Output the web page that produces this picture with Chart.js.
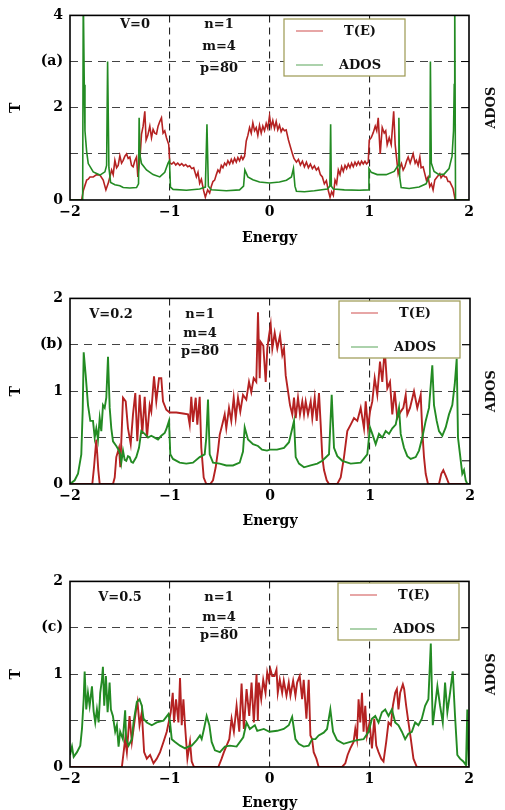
<!DOCTYPE html>
<html lang="en">
<head>
    <meta charset="UTF-8">
    <title>T(E) and ADOS</title>
    <script src="https://cdn.jsdelivr.net/npm/chart.js"></script>
    <style>
        body {
            margin: 0;
            background: #fff;
            width: 505px;
            height: 810px;
            overflow: hidden;
            position: relative;
        }

        .panel {
            position: absolute;
            left: 0;
            width: 505px;
        }
    </style>
</head>
<body>

    <div class="panel" style="top:0px;height:270px"><canvas id="chartA" width="505" height="270"></canvas></div>
    <div class="panel" style="top:283px;height:270px"><canvas id="chartB" width="505" height="270"></canvas></div>
    <div class="panel" style="top:566px;height:244px"><canvas id="chartC" width="505" height="244"></canvas></div>

    <script>
        // energy axis
        var xTicks = [-2, -1, 0, 1, 2];
        var xTickLabels = ['\u22122', '\u22121', '0', '1', '2'];

        // y tick labels per panel (panel letter sits on a tick)
        var yTickLabelsA = ['0', '', '2', '(a)', '4'];
        var yTickLabelsB = ['0', '', '1', '(b)', '2'];
        var yTickLabelsC = ['0', '', '1', '(c)', '2'];

        var seriesNames = ['T(E)', 'ADOS'];
        var paramsA = ['V=0', 'n=1', 'm=4', 'p=80'];
        var paramsB = ['V=0.2', 'n=1', 'm=4', 'p=80'];
        var paramsC = ['V=0.5', 'n=1', 'm=4', 'p=80'];

        // (a) V=0 : [energy, value]
        var adosA = [[-2,0],[-1.883,0],[-1.873,0],[-1.867,4.5],[-1.857,2.5],[-1.85,1.5],[-1.833,1.05],[-1.817,0.79],[-1.767,0.61],[-1.70,0.54],[-1.65,0.61],[-1.633,0.75],[-1.623,3.0],[-1.61,0.7],[-1.593,0.38],[-1.55,0.33],[-1.5,0.31],[-1.467,0.27],[-1.40,0.26],[-1.333,0.27],[-1.313,0.35],[-1.307,1.78],[-1.297,0.95],[-1.283,0.79],[-1.233,0.65],[-1.167,0.55],[-1.10,0.5],[-1.05,0.6],[-1.017,0.8],[-1.003,0.85],[-0.993,0.28],[-0.967,0.23],[-0.833,0.21],[-0.70,0.24],[-0.643,0.28],[-0.627,1.64],[-0.613,0.3],[-0.583,0.22],[-0.433,0.2],[-0.30,0.22],[-0.26,0.3],[-0.247,0.65],[-0.217,0.5],[-0.167,0.44],[-0.1,0.39],[0,0.37],[0.1,0.39],[0.17,0.43],[0.22,0.5],[0.24,0.68],[0.255,0.3],[0.27,0.19],[0.35,0.18],[0.45,0.2],[0.58,0.24],[0.605,0.3],[0.613,1.64],[0.62,0.3],[0.64,0.24],[0.75,0.22],[0.9,0.21],[0.99,0.22],[0.997,0.68],[1.02,0.6],[1.08,0.55],[1.17,0.55],[1.25,0.62],[1.29,0.75],[1.297,1.78],[1.305,0.5],[1.32,0.27],[1.4,0.25],[1.5,0.28],[1.57,0.35],[1.6,0.5],[1.608,0.7],[1.613,3.0],[1.622,0.8],[1.65,0.62],[1.7,0.55],[1.75,0.56],[1.8,0.68],[1.83,0.95],[1.845,1.5],[1.852,2.5],[1.857,4.5],[1.865,0],[2,0]];
        var transA = [[-2,0],[-1.883,0],[-1.867,0.2],[-1.833,0.43],[-1.817,0.45],[-1.8,0.5],[-1.767,0.5],[-1.733,0.55],[-1.7,0.54],[-1.667,0.43],[-1.64,0.22],[-1.617,0.36],[-1.583,0.65],[-1.567,0.55],[-1.55,0.86],[-1.533,0.7],[-1.517,0.75],[-1.5,0.96],[-1.483,0.8],[-1.467,0.86],[-1.45,0.95],[-1.433,1.0],[-1.417,0.9],[-1.4,0.93],[-1.383,0.75],[-1.367,0.72],[-1.35,0.85],[-1.333,0.93],[-1.32,0.5],[-1.297,0.95],[-1.283,1.43],[-1.267,1.6],[-1.25,1.92],[-1.237,1.3],[-1.22,1.4],[-1.2,1.6],[-1.183,1.35],[-1.167,1.53],[-1.15,1.45],[-1.133,1.43],[-1.117,1.6],[-1.1,1.7],[-1.083,1.78],[-1.067,1.45],[-1.05,1.5],[-1.033,1.35],[-1.01,1.2],[-1.0,0.8],[-0.98,0.78],[-0.96,0.82],[-0.94,0.76],[-0.92,0.8],[-0.9,0.75],[-0.88,0.79],[-0.86,0.74],[-0.84,0.77],[-0.82,0.72],[-0.8,0.74],[-0.78,0.68],[-0.76,0.7],[-0.733,0.5],[-0.717,0.6],[-0.7,0.36],[-0.683,0.45],[-0.66,0.2],[-0.643,0.06],[-0.62,0.22],[-0.6,0.15],[-0.583,0.3],[-0.567,0.4],[-0.55,0.43],[-0.533,0.55],[-0.517,0.65],[-0.5,0.6],[-0.483,0.75],[-0.467,0.7],[-0.45,0.8],[-0.433,0.75],[-0.417,0.85],[-0.4,0.78],[-0.383,0.88],[-0.367,0.8],[-0.35,0.9],[-0.333,0.82],[-0.317,0.92],[-0.3,0.85],[-0.283,0.95],[-0.267,0.88],[-0.25,0.95],[-0.233,1.28],[-0.217,1.4],[-0.2,1.57],[-0.183,1.45],[-0.167,1.67],[-0.15,1.5],[-0.133,1.57],[-0.117,1.4],[-0.1,1.62],[-0.083,1.45],[-0.067,1.6],[-0.05,1.5],[-0.033,1.66],[-0.017,1.55],[0,1.82],[0.017,1.58],[0.033,1.72],[0.05,1.55],[0.067,1.7],[0.083,1.52],[0.1,1.62],[0.117,1.48],[0.133,1.55],[0.15,1.5],[0.167,1.52],[0.19,1.3],[0.21,1.15],[0.23,1.0],[0.245,0.9],[0.27,0.82],[0.29,0.88],[0.31,0.76],[0.33,0.84],[0.35,0.72],[0.37,0.82],[0.39,0.7],[0.41,0.78],[0.43,0.68],[0.45,0.74],[0.47,0.65],[0.49,0.7],[0.51,0.55],[0.53,0.5],[0.55,0.35],[0.57,0.42],[0.59,0.2],[0.607,0.06],[0.623,0.18],[0.64,0.1],[0.657,0.43],[0.673,0.35],[0.69,0.65],[0.707,0.55],[0.723,0.72],[0.74,0.62],[0.757,0.75],[0.773,0.68],[0.79,0.78],[0.807,0.7],[0.823,0.8],[0.84,0.72],[0.857,0.82],[0.873,0.75],[0.89,0.83],[0.907,0.76],[0.923,0.84],[0.94,0.78],[0.957,0.84],[0.973,0.78],[0.99,0.82],[1.0,1.3],[1.02,1.35],[1.04,1.46],[1.06,1.6],[1.075,1.5],[1.09,1.78],[1.11,1.0],[1.13,1.57],[1.15,1.45],[1.165,1.5],[1.18,1.2],[1.2,1.35],[1.22,1.2],[1.245,1.92],[1.26,1.2],[1.273,0.93],[1.29,0.57],[1.31,0.72],[1.323,0.79],[1.34,0.65],[1.357,0.72],[1.375,0.85],[1.39,0.93],[1.41,0.8],[1.44,1.0],[1.46,0.8],[1.473,0.86],[1.49,0.75],[1.507,0.93],[1.52,0.7],[1.54,0.72],[1.573,0.43],[1.59,0.5],[1.607,0.29],[1.623,0.35],[1.64,0.22],[1.657,0.43],[1.68,0.5],[1.707,0.57],[1.72,0.48],[1.74,0.54],[1.76,0.5],[1.773,0.5],[1.79,0.4],[1.807,0.4],[1.84,0.25],[1.86,0.02],[1.87,0],[2,0]];

        // (b) V=0.2
        var adosB = [[-2,0],[-1.953,0.04],[-1.92,0.11],[-1.887,0.32],[-1.873,0.8],[-1.863,1.42],[-1.843,1.17],[-1.82,0.85],[-1.797,0.68],[-1.77,0.68],[-1.753,0.5],[-1.737,0.6],[-1.72,0.48],[-1.703,0.71],[-1.687,0.57],[-1.67,0.85],[-1.653,0.82],[-1.637,0.93],[-1.62,1.37],[-1.603,0.82],[-1.587,0.6],[-1.57,0.46],[-1.537,0.41],[-1.51,0.36],[-1.497,0.32],[-1.487,0.23],[-1.47,0.36],[-1.453,0.26],[-1.437,0.25],[-1.42,0.3],[-1.403,0.29],[-1.387,0.24],[-1.37,0.23],[-1.337,0.29],[-1.31,0.39],[-1.287,0.57],[-1.253,0.54],[-1.22,0.5],[-1.187,0.52],[-1.153,0.5],[-1.12,0.48],[-1.087,0.52],[-1.053,0.55],[-1.037,0.59],[-1.01,0.68],[-0.997,0.32],[-0.97,0.27],[-0.903,0.23],[-0.837,0.22],[-0.77,0.23],[-0.703,0.29],[-0.653,0.32],[-0.637,0.5],[-0.62,0.91],[-0.603,0.32],[-0.57,0.23],[-0.503,0.22],[-0.437,0.2],[-0.37,0.2],[-0.303,0.23],[-0.27,0.35],[-0.253,0.61],[-0.22,0.48],[-0.17,0.43],[-0.12,0.41],[-0.08,0.37],[-0.03,0.36],[0,0.37],[0.07,0.37],[0.14,0.39],[0.19,0.45],[0.223,0.6],[0.24,0.68],[0.257,0.29],[0.29,0.22],[0.34,0.18],[0.407,0.2],[0.473,0.22],[0.523,0.25],[0.59,0.32],[0.617,0.96],[0.64,0.39],[0.673,0.3],[0.723,0.25],[0.807,0.22],[0.907,0.23],[0.973,0.32],[1.0,0.61],[1.023,0.54],[1.057,0.43],[1.09,0.54],[1.123,0.5],[1.157,0.57],[1.19,0.54],[1.223,0.6],[1.257,0.64],[1.29,0.82],[1.307,0.54],[1.34,0.39],[1.373,0.3],[1.407,0.27],[1.457,0.29],[1.49,0.36],[1.523,0.5],[1.557,0.68],[1.59,0.82],[1.623,1.28],[1.64,0.85],[1.667,0.68],[1.69,0.57],[1.723,0.52],[1.757,0.61],[1.79,0.75],[1.823,0.85],[1.847,1.07],[1.867,1.35],[1.88,0.5],[1.9,0.32],[1.923,0.11],[1.94,0.15],[1.957,0.04],[1.973,0],[2,0]];
        var transB = [[-2,0],[-1.777,0],[-1.76,0.18],[-1.737,0.48],[-1.717,0.15],[-1.703,0],[-1.57,0],[-1.553,0.07],[-1.537,0.29],[-1.51,0.39],[-1.497,0.18],[-1.47,0.93],[-1.443,0.89],[-1.42,0.6],[-1.393,0.43],[-1.37,0.75],[-1.347,0.98],[-1.327,0.46],[-1.303,0.96],[-1.277,0.54],[-1.253,0.94],[-1.23,0.5],[-1.203,0.85],[-1.187,0.78],[-1.16,1.16],[-1.137,0.89],[-1.11,1.14],[-1.087,1.14],[-1.07,0.89],[-1.037,0.8],[-1.003,0.77],[-0.937,0.77],[-0.87,0.76],[-0.82,0.75],[-0.803,0.64],[-0.787,0.94],[-0.77,0.67],[-0.743,0.93],[-0.727,0.64],[-0.703,0.94],[-0.687,0.39],[-0.663,0.07],[-0.637,0],[-0.597,0],[-0.57,0.04],[-0.543,0.18],[-0.52,0.36],[-0.503,0.53],[-0.477,0.64],[-0.453,0.75],[-0.437,0.6],[-0.41,0.82],[-0.387,0.68],[-0.363,0.93],[-0.343,0.71],[-0.32,0.93],[-0.297,0.78],[-0.27,0.96],[-0.237,0.91],[-0.21,1.1],[-0.187,0.99],[-0.163,1.14],[-0.137,1.1],[-0.12,1.85],[-0.103,1.14],[-0.093,1.53],[-0.067,1.49],[-0.043,1.1],[-0.027,1.46],[-0.01,1.6],[0.007,1.72],[0.023,1.46],[0.047,1.63],[0.073,1.46],[0.1,1.6],[0.123,1.39],[0.14,1.46],[0.157,1.17],[0.18,1.0],[0.2,0.85],[0.223,0.75],[0.24,0.93],[0.257,0.71],[0.28,0.93],[0.3,0.75],[0.323,0.89],[0.34,0.75],[0.357,0.89],[0.38,0.75],[0.407,0.89],[0.423,0.71],[0.447,0.93],[0.467,0.68],[0.49,0.98],[0.507,0.64],[0.523,0.29],[0.54,0.15],[0.567,0.04],[0.59,0],[0.673,0],[0.707,0.07],[0.74,0.29],[0.773,0.57],[0.807,0.64],[0.84,0.71],[0.873,0.68],[0.907,0.82],[0.94,0.6],[0.957,0.89],[0.98,0.6],[1.0,0.78],[1.023,0.89],[1.047,1.14],[1.073,0.96],[1.1,1.32],[1.123,1.1],[1.147,1.46],[1.173,1.03],[1.2,1.1],[1.223,0.75],[1.247,1.0],[1.273,0.71],[1.307,0.78],[1.333,0.82],[1.357,0.96],[1.373,0.75],[1.4,0.82],[1.44,1.0],[1.473,0.82],[1.507,0.96],[1.523,0.57],[1.54,0.29],[1.557,0.11],[1.58,0],[1.69,0],[1.713,0.11],[1.733,0.15],[1.757,0.09],[1.79,0],[2,0]];

        // (c) V=0.5
        var adosC = [[-2,0.13],[-1.98,0.22],[-1.963,0.11],[-1.93,0.16],[-1.897,0.23],[-1.88,0.41],[-1.863,0.73],[-1.853,1.03],[-1.837,0.62],[-1.82,0.8],[-1.803,0.66],[-1.78,0.87],[-1.763,0.6],[-1.747,0.48],[-1.73,0.62],[-1.713,0.48],[-1.697,0.8],[-1.68,0.94],[-1.67,1.08],[-1.657,0.66],[-1.64,0.98],[-1.623,0.59],[-1.603,0.91],[-1.59,0.62],[-1.57,0.55],[-1.547,0.38],[-1.53,0.45],[-1.513,0.22],[-1.497,0.38],[-1.47,0.3],[-1.447,0.61],[-1.437,0.3],[-1.413,0.23],[-1.38,0.3],[-1.363,0.48],[-1.33,0.7],[-1.303,0.73],[-1.28,0.66],[-1.263,0.52],[-1.23,0.48],[-1.18,0.45],[-1.13,0.48],[-1.063,0.5],[-1.013,0.57],[-0.997,0.48],[-0.98,0.3],[-0.947,0.27],[-0.897,0.23],[-0.847,0.2],[-0.813,0.22],[-0.78,0.23],[-0.73,0.29],[-0.697,0.34],[-0.68,0.3],[-0.657,0.41],[-0.63,0.55],[-0.603,0.45],[-0.58,0.27],[-0.547,0.18],[-0.497,0.16],[-0.447,0.22],[-0.397,0.23],[-0.33,0.22],[-0.263,0.32],[-0.23,0.48],[-0.197,0.41],[-0.147,0.45],[-0.123,0.39],[-0.057,0.41],[0,0.38],[0.077,0.39],[0.143,0.41],[0.193,0.45],[0.227,0.54],[0.26,0.3],[0.293,0.25],[0.343,0.22],[0.393,0.23],[0.427,0.3],[0.46,0.3],[0.493,0.34],[0.543,0.37],[0.577,0.41],[0.61,0.62],[0.637,0.38],[0.677,0.29],[0.743,0.25],[0.81,0.27],[0.877,0.29],[0.943,0.3],[0.993,0.38],[1.027,0.52],[1.06,0.55],[1.093,0.48],[1.127,0.59],[1.16,0.62],[1.193,0.55],[1.227,0.62],[1.26,0.48],[1.293,0.45],[1.327,0.38],[1.36,0.3],[1.393,0.36],[1.427,0.38],[1.46,0.48],[1.493,0.45],[1.527,0.52],[1.56,0.66],[1.593,0.73],[1.617,1.33],[1.637,0.45],[1.66,0.66],[1.683,0.87],[1.71,0.66],[1.737,0.48],[1.76,0.91],[1.783,0.59],[1.81,0.8],[1.837,1.03],[1.86,0.55],[1.883,0.13],[1.91,0.09],[1.943,0.06],[1.97,0.02],[1.983,0.62],[1.997,0.02]];
        var transC = [[-2,0],[-1.48,0],[-1.447,0.3],[-1.43,0.16],[-1.403,0.55],[-1.38,0.27],[-1.363,0.41],[-1.337,0.62],[-1.323,0.7],[-1.303,0.45],[-1.28,0.59],[-1.257,0.16],[-1.23,0.09],[-1.197,0.13],[-1.163,0.04],[-1.13,0.09],[-1.097,0.16],[-1.063,0.27],[-1.03,0.38],[-1.003,0.52],[-0.99,0.59],[-0.97,0.8],[-0.957,0.48],[-0.937,0.73],[-0.913,0.48],[-0.897,0.96],[-0.88,0.45],[-0.863,0.73],[-0.847,0.45],[-0.823,0.09],[-0.797,0.27],[-0.78,0.06],[-0.757,0],[-0.513,0],[-0.48,0.09],[-0.457,0.16],[-0.43,0.23],[-0.403,0.3],[-0.38,0.52],[-0.357,0.38],[-0.33,0.66],[-0.303,0.38],[-0.28,0.9],[-0.257,0.41],[-0.23,0.84],[-0.203,0.55],[-0.18,0.91],[-0.157,0.48],[-0.13,1.0],[-0.117,0.5],[-0.107,0.91],[-0.083,0.73],[-0.063,0.94],[-0.04,0.8],[-0.023,1.02],[-0.007,0.94],[0.01,1.05],[0.027,0.98],[0.05,0.98],[0.07,1.05],[0.083,0.8],[0.103,0.94],[0.127,0.8],[0.143,0.93],[0.17,0.77],[0.193,0.91],[0.21,0.77],[0.237,0.93],[0.26,0.77],[0.277,0.91],[0.303,0.98],[0.327,0.73],[0.343,0.94],[0.37,0.52],[0.393,0.94],[0.41,0.34],[0.427,0.3],[0.443,0.16],[0.47,0.09],[0.493,0],[0.727,0],[0.76,0.04],[0.783,0.13],[0.81,0.2],[0.843,0.27],[0.86,0.41],[0.877,0.3],[0.893,0.73],[0.91,0.48],[0.927,0.8],[0.943,0.38],[0.96,0.66],[0.977,0.34],[1.003,0.48],[1.027,0.2],[1.05,0.52],[1.07,0.23],[1.093,0.16],[1.12,0.09],[1.143,0.06],[1.17,0.27],[1.193,0.48],[1.217,0.45],[1.237,0.66],[1.26,0.8],[1.277,0.84],[1.293,0.62],[1.31,0.8],[1.337,0.89],[1.35,0.84],[1.37,0.66],[1.393,0.48],[1.417,0.3],[1.443,0.09],[1.477,0],[2,0]];

        var redColor = '#b52222';
        var greenColor = '#238b23';
        var fontFamily = "'DejaVu Serif', serif";

        function toPoints(arr) {
            return arr.map(function(p) { return { x: p[0], y: p[1] }; });
        }

        // frame, params text, legend box and the ADOS label
        var decorPlugin = {
            id: 'decor',
            afterDraw: function(chart) {
                var o = chart.options.plugins.decor;
                var ctx = chart.ctx;
                var area = chart.chartArea;
                var yScale = chart.scales.y;
                ctx.save();

                // right-side ticks of the ADOS axis
                ctx.strokeStyle = '#000';
                ctx.lineWidth = 1;
                o.rightTicks.forEach(function(v) {
                    var py = yScale.getPixelForValue(v);
                    ctx.beginPath();
                    ctx.moveTo(area.right - 8, py);
                    ctx.lineTo(area.right, py);
                    ctx.stroke();
                });

                // plot frame
                ctx.lineWidth = 1.6;
                ctx.strokeRect(area.left, area.top, area.right - area.left, area.bottom - area.top);

                // parameters
                ctx.fillStyle = '#111';
                ctx.font = 'bold 13px ' + fontFamily;
                ctx.textAlign = 'center';
                ctx.textBaseline = 'middle';
                ctx.fillText(o.params[0], o.vX, o.rows[0]);
                for (var i = 1; i < 4; i++) {
                    ctx.fillText(o.params[i], o.nX, o.rows[i - 1]);
                }

                // legend box
                var lb = o.legend;
                ctx.fillStyle = '#fff';
                ctx.fillRect(lb.x, lb.y, 121, 57);
                ctx.strokeStyle = '#9c9850';
                ctx.lineWidth = 1.2;
                ctx.strokeRect(lb.x, lb.y, 121, 57);
                var colors = ['rgba(205,70,70,0.8)', 'rgba(80,160,80,0.8)'];
                var rowsY = [lb.y + 12, lb.y + 46];
                ctx.lineWidth = 1.2;
                for (var k = 0; k < 2; k++) {
                    ctx.strokeStyle = colors[k];
                    ctx.beginPath();
                    ctx.moveTo(lb.x + 12, rowsY[k]);
                    ctx.lineTo(lb.x + 39, rowsY[k]);
                    ctx.stroke();
                    ctx.fillStyle = '#111';
                    ctx.font = 'bold 13px ' + fontFamily;
                    ctx.fillText(seriesNames[k], lb.x + 76, rowsY[k] + 1);
                }

                // right axis label
                ctx.translate(492, (area.top + area.bottom) / 2);
                ctx.rotate(-Math.PI / 2);
                ctx.font = 'bold 13px ' + fontFamily;
                ctx.fillStyle = '#111';
                ctx.fillText('ADOS', 0, 0);
                ctx.restore();
            }
        };

        function makePanel(id, p) {
            var ctx = document.getElementById(id).getContext('2d');
            var nTicks = p.yLabels.length;
            return new Chart(ctx, {
                type: 'line',
                data: {
                    datasets: [{
                        label: 'ADOS',
                        data: toPoints(p.ados),
                        borderColor: greenColor,
                        borderWidth: p.lineWidth,
                        pointRadius: 0,
                        tension: 0,
                        fill: false
                    }, {
                        label: 'T(E)',
                        data: toPoints(p.trans),
                        borderColor: redColor,
                        borderWidth: p.lineWidth,
                        pointRadius: 0,
                        tension: 0,
                        fill: false
                    }]
                },
                options: {
                    responsive: false,
                    animation: false,
                    events: [],
                    layout: { padding: { top: 13, right: p.padRight, left: 0, bottom: 0 } },
                    plugins: {
                        legend: { display: false },
                        tooltip: { enabled: false },
                        decor: {
                            params: p.params,
                            vX: p.vX,
                            nX: p.nX,
                            rows: p.rows,
                            legend: p.legend,
                            rightTicks: p.rightTicks
                        }
                    },
                    scales: {
                        x: {
                            type: 'linear',
                            min: -2,
                            max: 2,
                            afterFit: function(scale) { scale.height = p.xHeight; },
                            afterBuildTicks: function(scale) {
                                scale.ticks = xTicks.map(function(v) { return { value: v }; });
                            },
                            ticks: {
                                padding: 4,
                                maxRotation: 0,
                                color: '#000',
                                font: { family: fontFamily, size: 14, weight: 'bold' },
                                callback: function(value) {
                                    return xTickLabels[xTicks.indexOf(value)];
                                }
                            },
                            grid: {
                                drawTicks: false,
                                lineWidth: 1.1,
                                color: function(c) {
                                    var v = c.tick ? c.tick.value : null;
                                    return (v === -2 || v === 2) ? 'rgba(0,0,0,0)' : '#222';
                                }
                            },
                            border: { display: false, dash: [7, 5] },
                            title: {
                                display: true,
                                text: 'Energy',
                                color: '#000',
                                font: { family: fontFamily, size: 14, weight: 'bold', lineHeight: 1 },
                                padding: { top: 0, bottom: p.titlePad }
                            }
                        },
                        y: {
                            type: 'linear',
                            min: 0,
                            max: p.yMax,
                            afterFit: function(scale) { scale.width = 70; },
                            ticks: {
                                stepSize: p.yMax / (nTicks - 1),
                                padding: 7,
                                color: '#000',
                                font: { family: fontFamily, size: 14, weight: 'bold' },
                                callback: function(value) {
                                    return p.yLabels[Math.round(value / (p.yMax / (nTicks - 1)))];
                                }
                            },
                            grid: {
                                drawTicks: false,
                                lineWidth: 1.1,
                                color: function(c) {
                                    var v = c.tick ? c.tick.value : null;
                                    return (v === 0 || v === p.yMax) ? 'rgba(0,0,0,0)' : '#444';
                                }
                            },
                            border: { display: false, dash: [8, 6] },
                            title: {
                                display: true,
                                text: 'T',
                                color: '#000',
                                font: { family: fontFamily, size: 14, weight: 'bold', lineHeight: 1 },
                                padding: { top: 9, bottom: 0 }
                            }
                        }
                    }
                },
                plugins: [decorPlugin]
            });
        }

        makePanel('chartA', {
            ados: adosA, trans: transA, yMax: 4, yLabels: yTickLabelsA,
            lineWidth: 1.6, padRight: 36, xHeight: 70, titlePad: 25,
            params: paramsA, vX: 135, nX: 219, rows: [25, 47, 69],
            legend: { x: 284, y: 19 }, rightTicks: [1, 2, 3]
        });
        makePanel('chartB', {
            ados: adosB, trans: transB, yMax: 2, yLabels: yTickLabelsB,
            lineWidth: 1.9, padRight: 35, xHeight: 69, titlePad: 25,
            params: paramsB, vX: 111, nX: 200, rows: [32, 51, 69],
            legend: { x: 339, y: 18 }, rightTicks: [0.25, 0.5, 0.75, 1, 1.5]
        });
        makePanel('chartC', {
            ados: adosC, trans: transC, yMax: 2, yLabels: yTickLabelsC,
            lineWidth: 1.9, padRight: 36, xHeight: 43, titlePad: 0,
            params: paramsC, vX: 120, nX: 219, rows: [32, 52, 70],
            legend: { x: 338, y: 17 }, rightTicks: [0.5, 1, 1.5]
        });
    </script>
</body>
</html>
